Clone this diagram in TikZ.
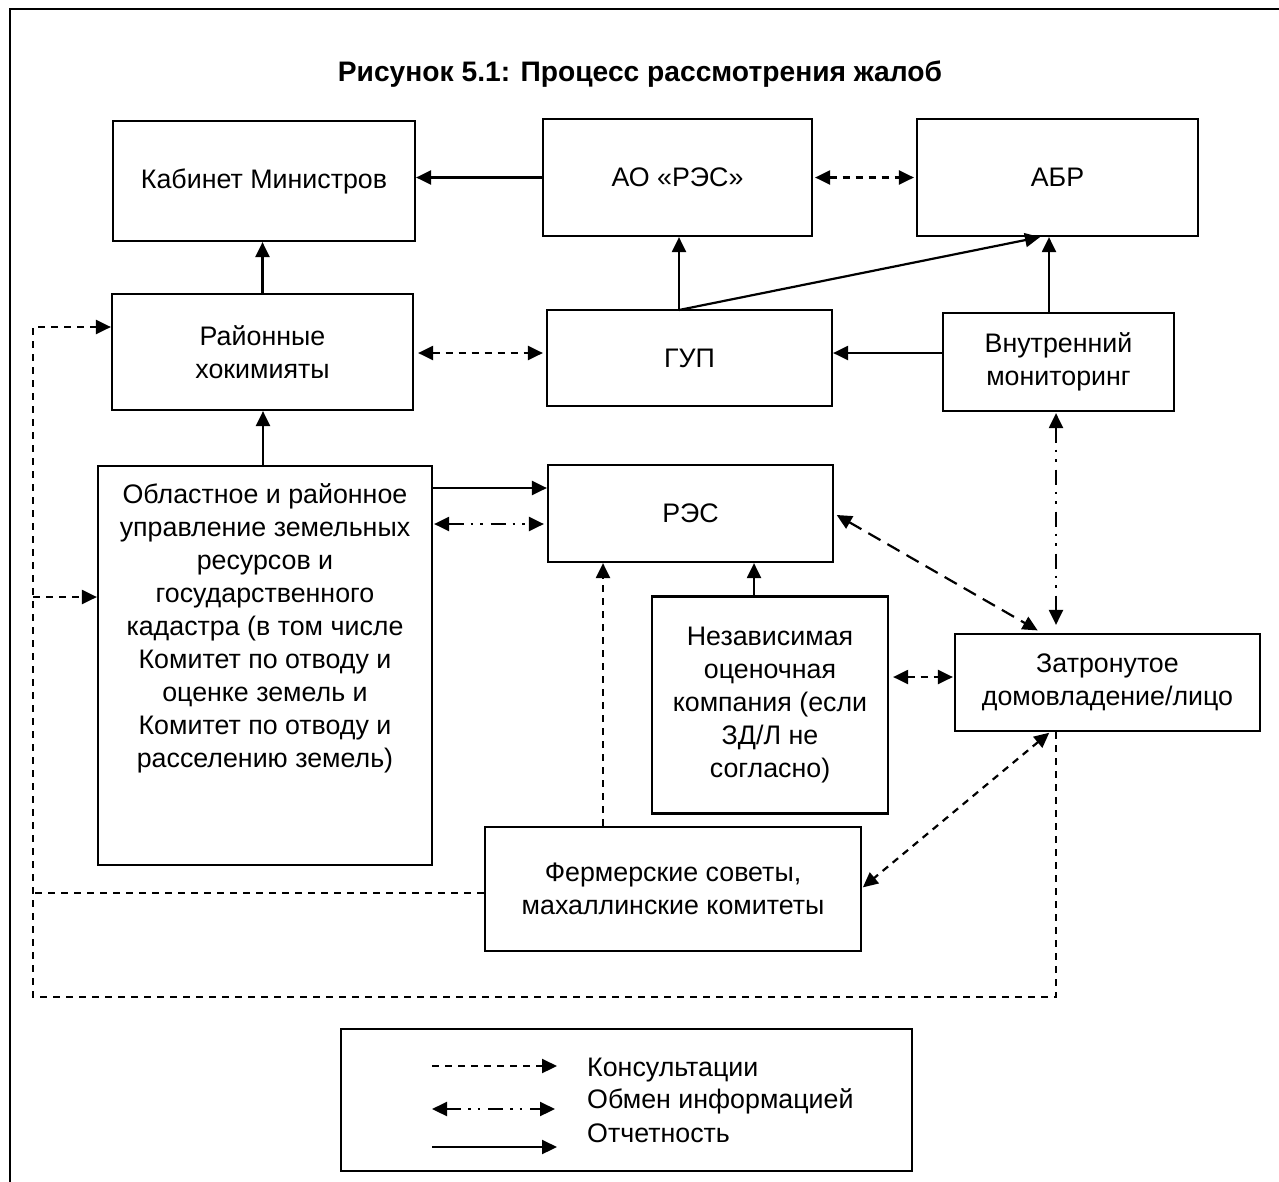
\documentclass[tikz,border=0pt]{standalone}
\usepackage{fontspec}
\setmainfont{Liberation Sans}
\usetikzlibrary{arrows.meta}
\begin{document}
\begin{tikzpicture}[x=1pt,y=-1pt,
  >={Triangle[length=15pt,width=14pt]},
  box/.style={draw, line width=2.2pt, inner sep=0pt, align=center, font=\fontsize{26.8}{33}\selectfont},
  txt/.style={inner sep=0pt, align=center, font=\fontsize{26.8}{33}\selectfont},
  report/.style={line width=2.2pt},
  consult/.style={line width=2.2pt, dash pattern=on 7pt off 6pt},
  longdash/.style={line width=2.2pt, dash pattern=on 14pt off 8pt},
  info/.style={line width=2.2pt, dash pattern=on 15pt off 7pt on 2.5pt off 7pt on 2.5pt off 8pt}]
\useasboundingbox (0,0) rectangle (1279,1181);
% frame
\draw[line width=2.5pt] (10,1185) -- (10,9) -- (1283,9);
% title
\node[txt, font=\bfseries\fontsize{28.2}{33}\selectfont] (title) at (640,74) {Рисунок 5.1: Процесс рассмотрения жалоб};
% boxes
\node[box, minimum width=302pt, minimum height=120pt] (kab) at (264,181) {Кабинет Министров};
\node[box, minimum width=269pt, minimum height=117pt] (ao) at (677.5,177.5) {АО «РЭС»};
\node[box, minimum width=281pt, minimum height=117pt] (abr) at (1057.5,177.5) {АБР};
\node[box, minimum width=301pt, minimum height=116pt] (rai) at (262.5,352) {Районные\\хокимияты};
\node[box, minimum width=285pt, minimum height=96pt] (gup) at (689.5,358) {ГУП};
\node[box, minimum width=231pt, minimum height=98pt] (vnu) at (1058.5,362) {Внутренний\\мониторинг};
\node[box, minimum width=334pt, minimum height=399pt] (obl) at (265,665.5) {};
\node[txt, anchor=north] (oblt) at (265,483) {Областное и районное\\управление земельных\\ресурсов и\\государственного\\кадастра (в том числе\\Комитет по отводу и\\оценке земель и\\Комитет по отводу и\\расселению земель)};
\node[box, minimum width=285pt, minimum height=97pt] (res) at (690.5,513.5) {РЭС};
\node[box, minimum width=236pt, minimum height=217pt] (nez) at (770,705) {Независимая\\оценочная\\компания (если\\ЗД/Л не\\согласно)};
\node[box, minimum width=305pt, minimum height=97pt] (zat) at (1107.5,682.5) {Затронутое\\домовладение/лицо};
\node[box, minimum width=376pt, minimum height=124pt] (fer) at (673,889) {Фермерские советы,\\махаллинские комитеты};
% connectors
\draw[report,->] (ao.west) -- (kab.east |- ao.west);
\draw[consult,<->,shorten <=2pt,shorten >=2pt] (ao.east) -- (abr.west);
\draw[report,->] (rai.north) -- (rai.north |- kab.south);
\draw[consult,<->,shorten <=4pt,shorten >=3pt] (rai.east |- 0,353) -- (gup.west |- 0,353);
\coordinate (gupt) at (679,310);
\draw[report,->] (gupt) -- (gupt |- ao.south);
\draw[report,->] (gupt) -- (abr.south -| 1040,0);
\draw[report,->] (vnu.north -| 1049,0) -- (abr.south -| 1049,0);
\draw[report,->] (vnu.west |- 0,353) -- (gup.east |- 0,353);
\draw[report,->] (obl.north -| 263,0) -- (rai.south -| 263,0);
\draw[report,->] (obl.east |- 0,488) -- (res.west |- 0,488);
\draw[info,<->,shorten <=1pt,shorten >=3pt] (obl.east |- 0,524) -- (res.west |- 0,524);
\draw[report,->] (nez.north -| 754,0) -- (res.south -| 754,0);
\draw[consult,->] (fer.north -| 603,0) -- (res.south -| 603,0);
\draw[longdash,<->,shorten <=3pt,shorten >=5pt] (res.east) -- (zat.north -| 1042,0);
\draw[info,<->,shorten <=1pt,shorten >=8pt] (vnu.south -| 1056,0) -- (zat.north -| 1056,0);
\draw[consult,<->,shorten <=4pt,shorten >=1pt] (nez.east |- 0,677) -- (zat.west |- 0,677);
\draw[consult,<->,shorten <=1pt,shorten >=1pt] (zat.south -| 1050,0) -- (fer.east |- 0,888);
\coordinate (lt) at (33,327);
\coordinate (lm) at (33,597);
\coordinate (lf) at (33,893);
\coordinate (lb) at (33,997);
\coordinate (rb) at (1056,997);
\draw[consult,->] (zat.south -| rb) -- (rb) -- (lb) -- (lt) -- (rai.west |- lt);
\draw[consult,->] (lm) -- (obl.west |- lm);
\draw[consult] (fer.west |- lf) -- (lf);
% legend
\node[draw, line width=2.2pt, minimum width=571pt, minimum height=142pt, inner sep=0pt] (leg) at (626.5,1100) {};
\coordinate (c1) at (432,1066);
\coordinate (c2) at (557,1066);
\coordinate (i1) at (432,1109);
\coordinate (i2) at (555,1109);
\coordinate (r1) at (432,1147);
\coordinate (r2) at (557,1147);
\draw[consult,->] (c1) -- (c2);
\draw[info,<->] (i1) -- (i2);
\draw[report,->] (r1) -- (r2);
\node[txt, anchor=west] (lt1) at (587,1070) {Консультации};
\node[txt, anchor=west] (lt2) at (587,1101) {Обмен информацией};
\node[txt, anchor=west] (lt3) at (587,1133) {Отчетность};
\end{tikzpicture}
\end{document}
